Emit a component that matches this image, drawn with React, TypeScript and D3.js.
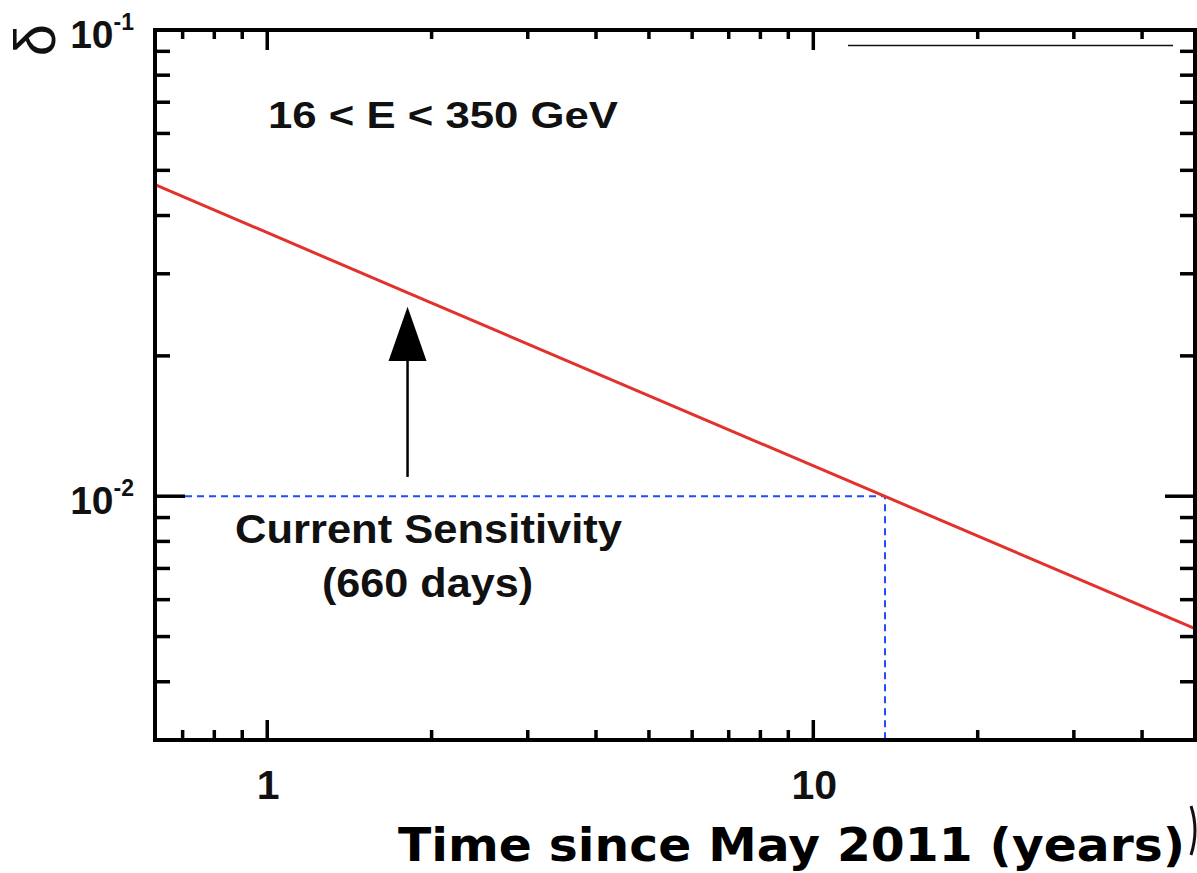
import React from 'react';
import * as d3 from 'd3';

// ---- data ----
const timeYears = [0.623, 1.81, 13.5, 50];
const deltaValues = [0.0466, 0.0273, 0.01, 0.0052];

const xDomain = [0.623, 50];
const yDomain = [0.003, 0.1];

const xMajorTicks = [1, 10];
const xMajorLabels = ['1', '10'];
const xMinorTicks = [0.7, 0.8, 0.9, 2, 3, 4, 5, 6, 7, 8, 9, 20, 30, 40];

const yMajorTicks = [0.01, 0.1];
const yMajorLabelBase = ['10', '10'];
const yMajorLabelExp = ['-2', '-1'];
const yMinorTicks = [0.004, 0.005, 0.006, 0.007, 0.008, 0.009, 0.02, 0.03, 0.04, 0.05, 0.06, 0.07, 0.08, 0.09];

const currentTime = 13.53;
const currentDelta = 0.01;

const arrowTime = 1.807;
const arrowTip = 0.0255;
const arrowHeadBase = 0.0195;
const arrowTail = 0.011;

const energyLabel = '16 < E < 350 GeV';
const sensLabel1 = 'Current Sensitivity';
const sensLabel2 = '(660 days)';
const xTitle = 'Time since May 2011 (years)';
const yTitle = 'δ';

// ---- layout ----
const W = 1197;
const H = 873;
const L = 155, R = 1195, T = 30, B = 740;

export default function App() {
  const x = d3.scaleLog().domain(xDomain).range([L, R]);
  const y = d3.scaleLog().domain(yDomain).range([B, T]);

  const line = d3
    .line<number>()
    .x((_, i) => x(timeYears[i]))
    .y((d) => y(d));

  const sans = "'Liberation Sans', Arial, Helvetica, sans-serif";
  const red = '#e3312b';
  const blue = '#1f4cff';

  return (
    <svg
      width={W}
      height={H}
      style={{ position: 'absolute', left: 0, top: 0, background: '#fff' }}
    >
      <rect x={0} y={0} width={W} height={H} fill="#fff" />

      {/* blue dashed guide */}
      <path
        d={`M${L + 30},${y(currentDelta)} H${x(currentTime)} V${B}`}
        fill="none"
        stroke={blue}
        strokeWidth={2}
        strokeDasharray="7,5"
      />

      {/* red sensitivity line */}
      <path d={line(deltaValues) || ''} fill="none" stroke={red} strokeWidth={3} />

      {/* residual thin line at top right */}
      <line x1={848} x2={1173} y1={45.5} y2={45.5} stroke="#111" strokeWidth={1.6} />

      {/* frame */}
      <rect x={L} y={T} width={R - L} height={B - T} fill="none" stroke="#000" strokeWidth={4} />

      {/* x ticks bottom + top */}
      {xMajorTicks.map((t) => (
        <g key={'xM' + t}>
          <line x1={x(t)} x2={x(t)} y1={B} y2={B - 20} stroke="#000" strokeWidth={3.5} />
          <line x1={x(t)} x2={x(t)} y1={T} y2={T + 20} stroke="#000" strokeWidth={3.5} />
        </g>
      ))}
      {xMinorTicks.map((t) => (
        <g key={'xm' + t}>
          <line x1={x(t)} x2={x(t)} y1={B} y2={B - 10} stroke="#000" strokeWidth={3.5} />
          <line x1={x(t)} x2={x(t)} y1={T} y2={T + 9} stroke="#000" strokeWidth={3.5} />
        </g>
      ))}

      {/* y ticks left + right */}
      {yMajorTicks.map((v) => (
        <g key={'yM' + v}>
          <line x1={L} x2={L + 30} y1={y(v)} y2={y(v)} stroke="#000" strokeWidth={3.5} />
          <line x1={R} x2={R - 30} y1={y(v)} y2={y(v)} stroke="#000" strokeWidth={3.5} />
        </g>
      ))}
      {yMinorTicks.map((v) => (
        <g key={'ym' + v}>
          <line x1={L} x2={L + 15} y1={y(v)} y2={y(v)} stroke="#000" strokeWidth={3.5} />
          <line x1={R} x2={R - 15} y1={y(v)} y2={y(v)} stroke="#000" strokeWidth={3.5} />
        </g>
      ))}

      {/* x tick labels */}
      {xMajorTicks.map((t, i) => (
        <text
          key={'xl' + t}
          x={x(t) + 1}
          y={799}
          textAnchor="middle"
          fontFamily={sans}
          fontWeight={700}
          fontSize={41}
          fill="#111"
        >
          {xMajorLabels[i]}
        </text>
      ))}

      {/* y tick labels */}
      {yMajorTicks.map((v, i) => (
        <text
          key={'yl' + v}
          x={134}
          y={y(v) + 18}
          textAnchor="end"
          fontFamily={sans}
          fontWeight={700}
          fontSize={39}
          fill="#111"
        >
          {yMajorLabelBase[i]}
          <tspan dy={-18} fontSize={23}>
            {yMajorLabelExp[i]}
          </tspan>
        </text>
      ))}

      {/* y axis title (rotated delta) */}
      <text
        x={55}
        y={40}
        transform="rotate(-90, 55, 40)"
        textAnchor="middle"
        fontFamily={sans}
        fontSize={58}
        fill="#111"
      >
        {yTitle}
      </text>

      {/* energy label */}
      <text
        x={268}
        y={128}
        fontFamily={sans}
        fontWeight={700}
        fontSize={37}
        textLength={350}
        lengthAdjust="spacingAndGlyphs"
        fill="#111"
      >
        {energyLabel}
      </text>

      {/* arrow */}
      <line
        x1={x(arrowTime)}
        x2={x(arrowTime)}
        y1={y(arrowTail)}
        y2={y(arrowHeadBase)}
        stroke="#000"
        strokeWidth={2.5}
      />
      <path
        d={`M${x(arrowTime)},${y(arrowTip)} L${x(arrowTime) - 19},${y(arrowHeadBase)} L${x(arrowTime) + 19},${y(arrowHeadBase)} Z`}
        fill="#000"
      />

      {/* current sensitivity labels */}
      <text
        x={235}
        y={543}
        fontFamily={sans}
        fontWeight={700}
        fontSize={40}
        textLength={387}
        lengthAdjust="spacingAndGlyphs"
        fill="#111"
      >
        {sensLabel1}
      </text>
      <text
        x={322}
        y={597}
        fontFamily={sans}
        fontWeight={700}
        fontSize={40}
        textLength={211}
        lengthAdjust="spacingAndGlyphs"
        fill="#111"
      >
        {sensLabel2}
      </text>

      {/* x axis title */}
      <text
        x={398}
        y={861}
        fontFamily="'DejaVu Sans', Verdana, sans-serif"
        fontWeight={700}
        fontSize={47}
        textLength={787}
        lengthAdjust="spacingAndGlyphs"
        fill="#000"
      >
        {xTitle}
      </text>

      {/* cropped bracket fragment at the right edge */}
      <path d="M1191,806 Q1199,830 1191,855" fill="none" stroke="#111" strokeWidth={3} />
    </svg>
  );
}
